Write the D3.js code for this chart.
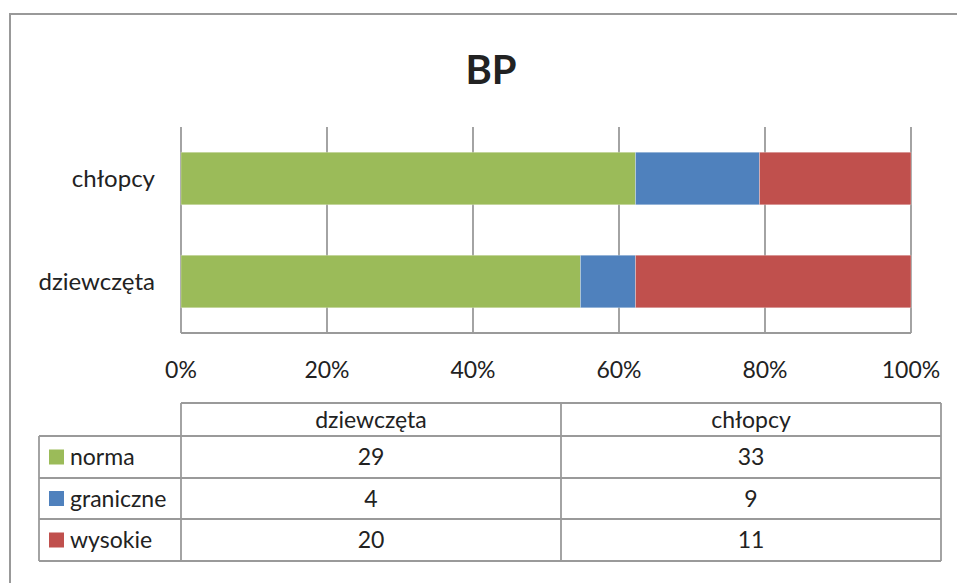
<!DOCTYPE html>
<html><head><meta charset="utf-8">
<script src="https://cdn.jsdelivr.net/npm/d3@7"></script>
<style>body{margin:0;background:#fff}svg{display:block}text{font-family:Lato,"Open Sans",sans-serif;fill:#222}</style>
</head><body><svg id="c" width="957" height="583"></svg>
<script>
const title = "BP";
const categories = ["dziewczęta", "chłopcy"];
const seriesNames = ["norma", "graniczne", "wysokie"];
const seriesColors = ["#9BBB59", "#4F81BD", "#C0504D"];
const norma = [29, 33];
const graniczne = [4, 9];
const wysokie = [20, 11];
const tickLabels = ["0%", "20%", "40%", "60%", "80%", "100%"];

const values = [norma, graniczne, wysokie];
const rows = categories.map((c, i) => {
  const o = {cat: c};
  seriesNames.forEach((s, j) => o[s] = values[j][i]);
  return o;
});

const svg = d3.select("#c");
svg.append("rect").attr("x", 10).attr("y", 14).attr("width", 960).attr("height", 600)
  .attr("fill", "#fff").attr("stroke", "#999").attr("stroke-width", 2);

svg.append("text").attr("x", 491).attr("y", 84).attr("text-anchor", "middle")
  .style("font-size", "40px").style("font-weight", "bold").text(title);

const L = 181, R = 911, T = 127, B = 333;
const x = d3.scaleLinear().domain([0, 1]).range([L, R]);
const yb = d3.scaleBand().domain(["chłopcy", "dziewczęta"]).range([T, B]).paddingInner(0.49).paddingOuter(0.245);

const ticks = d3.range(0, 1.0001, 0.2);
svg.append("g").selectAll("line").data(ticks).join("line")
  .attr("x1", d => x(d)).attr("x2", d => x(d)).attr("y1", T).attr("y2", B)
  .attr("stroke", "#9a9a9a").attr("stroke-width", 1.8);
svg.append("line").attr("x1", L).attr("x2", R).attr("y1", B).attr("y2", B)
  .attr("stroke", "#9a9a9a").attr("stroke-width", 1.8);

const stack = d3.stack().keys(seriesNames).offset(d3.stackOffsetExpand);
const stacked = stack(rows);
svg.append("g").selectAll("g").data(stacked).join("g")
  .attr("fill", (d, i) => seriesColors[i])
  .selectAll("rect").data(d => d).join("rect")
  .attr("x", d => x(d[0])).attr("width", d => x(d[1]) - x(d[0]))
  .attr("y", d => yb(d.data.cat)).attr("height", yb.bandwidth())
  .attr("stroke", "rgba(255,255,255,0.35)").attr("stroke-width", 0.8);

svg.append("g").selectAll("text").data(categories).join("text")
  .attr("x", 155).attr("y", d => yb(d) + yb.bandwidth() / 2 + 8)
  .attr("text-anchor", "end").style("font-size", "24px").text(d => d);

svg.append("g").selectAll("text").data(ticks).join("text")
  .attr("x", d => x(d)).attr("y", 378).attr("text-anchor", "middle")
  .style("font-size", "23px").text((d, i) => tickLabels[i]);

const colX = [39, 181, 561, 941];
const rowY = [403, 436, 478, 519, 561];
const tg = svg.append("g");
const lineC = "#9a9a9a";
function ln(x1, y1, x2, y2) {
  tg.append("line").attr("x1", x1).attr("y1", y1).attr("x2", x2).attr("y2", y2)
    .attr("stroke", lineC).attr("stroke-width", 1.8);
}
ln(181, 403, 941, 403);
for (let r = 1; r < rowY.length; r++) ln(39, rowY[r], 941, rowY[r]);
ln(39, 436, 39, 561);
ln(181, 403, 181, 561);
ln(561, 403, 561, 561);
ln(941, 403, 941, 561);

const tableCols = ["dziewczęta", "chłopcy"];
tableCols.forEach((c, ci) => {
  const cx = (colX[ci + 1] + colX[ci + 2]) / 2;
  tg.append("text").attr("x", cx).attr("y", (rowY[0] + rowY[1]) / 2 + 8)
    .attr("text-anchor", "middle").style("font-size", "23px").text(c);
  seriesNames.forEach((s, si) => {
    const ci2 = categories.indexOf(c);
    tg.append("text").attr("x", cx).attr("y", (rowY[si + 1] + rowY[si + 2]) / 2 + 8)
      .attr("text-anchor", "middle").style("font-size", "23px").text(values[si][ci2]);
  });
});
seriesNames.forEach((s, si) => {
  const cy = (rowY[si + 1] + rowY[si + 2]) / 2;
  tg.append("rect").attr("x", 49).attr("y", cy - 7.5).attr("width", 15).attr("height", 15)
    .attr("fill", seriesColors[si]);
  tg.append("text").attr("x", 70).attr("y", cy + 8).style("font-size", "23px").text(s);
});
</script></body></html>
